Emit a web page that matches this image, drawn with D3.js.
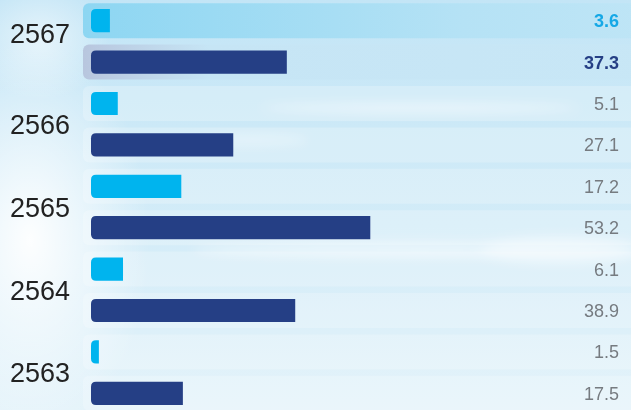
<!DOCTYPE html>
<html>
<head>
<meta charset="utf-8">
<script src="https://cdn.jsdelivr.net/npm/d3@7"></script>
<style>
  html, body { margin: 0; padding: 0; background: #d6ecf8; }
  svg { display: block; }
</style>
</head>
<body>
<svg id="chart"></svg>
<script>
// chart data
const years = ['2567', '2566', '2565', '2564', '2563'];
const lightValues = [3.6, 5.1, 17.2, 6.1, 1.5];
const darkValues = [37.3, 27.1, 53.2, 38.9, 17.5];
const valueLabels = [['3.6', '37.3'], ['5.1', '27.1'], ['17.2', '53.2'], ['6.1', '38.9'], ['1.5', '17.5']];

const width = 631, height = 410;
const cyan = '#00b4ee', navy = '#253f85';

const svg = d3.select('#chart').attr('width', width).attr('height', height);
const defs = svg.append('defs');

// sky background
const sky = defs.append('linearGradient').attr('id', 'sky').attr('x1', 0).attr('y1', 0).attr('x2', 0).attr('y2', 1);
sky.append('stop').attr('offset', '0%').attr('stop-color', '#c3e5f6');
sky.append('stop').attr('offset', '55%').attr('stop-color', '#d3ecf8');
sky.append('stop').attr('offset', '100%').attr('stop-color', '#e4f3fa');

const glow = defs.append('radialGradient').attr('id', 'glow');
glow.append('stop').attr('offset', '0%').attr('stop-color', '#ffffff').attr('stop-opacity', 0.95);
glow.append('stop').attr('offset', '100%').attr('stop-color', '#ffffff').attr('stop-opacity', 0);

defs.append('filter').attr('id', 'blur').append('feGaussianBlur').attr('stdDeviation', 6);

const topRow = defs.append('linearGradient').attr('id', 'topRow');
topRow.append('stop').attr('offset', '0%').attr('stop-color', '#8dd6f2');
topRow.append('stop').attr('offset', '60%').attr('stop-color', '#b5e2f5');
topRow.append('stop').attr('offset', '100%').attr('stop-color', '#c2e6f6');

const secondRow = defs.append('linearGradient').attr('id', 'secondRow');
secondRow.append('stop').attr('offset', '0%').attr('stop-color', '#b8c6de');
secondRow.append('stop').attr('offset', '20%').attr('stop-color', '#c6e5f5');
secondRow.append('stop').attr('offset', '100%').attr('stop-color', '#c8e7f6');

svg.append('rect').attr('width', width).attr('height', height).attr('fill', 'url(#sky)');
svg.append('ellipse').attr('cx', 30).attr('cy', 240).attr('rx', 120).attr('ry', 200).attr('fill', 'url(#glow)');
svg.append('ellipse').attr('cx', 40).attr('cy', 40).attr('rx', 70).attr('ry', 60).attr('fill', 'url(#glow)').attr('opacity', 0.6);

// a few soft clouds
const clouds = svg.append('g').attr('filter', 'url(#blur)').attr('fill', '#ffffff');
clouds.append('ellipse').attr('cx', 420).attr('cy', 108).attr('rx', 160).attr('ry', 4).attr('opacity', 0.6);
clouds.append('ellipse').attr('cx', 420).attr('cy', 250).attr('rx', 230).attr('ry', 7).attr('opacity', 0.55);
clouds.append('ellipse').attr('cx', 560).attr('cy', 250).attr('rx', 80).attr('ry', 14).attr('opacity', 0.4);
clouds.append('ellipse').attr('cx', 250).attr('cy', 140).attr('rx', 60).attr('ry', 5).attr('opacity', 0.4);

// rows: light bar then dark bar for each year
const rows = [];
years.forEach((y, i) => {
  rows.push({ key: y + '-a', year: y, value: lightValues[i], label: valueLabels[i][0], kind: 'light', idx: i });
  rows.push({ key: y + '-b', year: y, value: darkValues[i], label: valueLabels[i][1], kind: 'dark', idx: i });
});

const yScale = d3.scaleBand()
  .domain(rows.map(d => d.key))
  .range([0, 414])
  .paddingInner(0.44)
  .paddingOuter(0.22);

const x = d3.scaleLinear().domain([0, 100]).range([91, 616]);

const panelH = 35;
const step = yScale.step();

// translucent row panels
svg.append('g').selectAll('rect')
  .data(rows)
  .join('rect')
  .attr('x', 83)
  .attr('y', d => yScale(d.key) + yScale.bandwidth() / 2 - panelH / 2)
  .attr('width', width)
  .attr('height', panelH)
  .attr('rx', 6)
  .attr('fill', (d, i) => i === 0 ? 'url(#topRow)' : i === 1 ? 'url(#secondRow)' : '#ffffff')
  .attr('fill-opacity', (d, i) => i < 2 ? 1 : 0.22);

// bars with rounded left corners
const r = 5;
const barPath = d => {
  const x0 = x(0), x1 = x(d.value), y0 = yScale(d.key), h = yScale.bandwidth();
  const rr = Math.min(r, (x1 - x0));
  return `M${x1},${y0}H${x0 + rr}Q${x0},${y0} ${x0},${y0 + rr}V${y0 + h - rr}Q${x0},${y0 + h} ${x0 + rr},${y0 + h}H${x1}Z`;
};

svg.append('g').selectAll('path')
  .data(rows)
  .join('path')
  .attr('d', barPath)
  .attr('fill', d => d.kind === 'light' ? cyan : navy);

// value labels
svg.append('g').selectAll('text')
  .data(rows)
  .join('text')
  .attr('x', 619)
  .attr('y', d => yScale(d.key) + yScale.bandwidth() / 2)
  .attr('dy', '0.36em')
  .attr('text-anchor', 'end')
  .attr('font-family', 'Liberation Sans, Arial, sans-serif')
  .attr('font-size', 18)
  .attr('font-weight', d => d.idx === 0 ? 'bold' : 'normal')
  .attr('fill', d => d.idx === 0 ? (d.kind === 'light' ? '#15a8e6' : navy) : '#767b80')
  .text(d => d.label);

// year labels
svg.append('g').selectAll('text')
  .data(years)
  .join('text')
  .attr('x', 10)
  .attr('y', (d, i) => (i === 0 ? -8 : 0) + yScale(d + '-a') + yScale.bandwidth() / 2 + step / 2)
  .attr('dy', '0.36em')
  .attr('font-family', 'Liberation Sans, Arial, sans-serif')
  .attr('font-size', 27)
  .attr('fill', '#222222')
  .text(d => d);
</script>
</body>
</html>
